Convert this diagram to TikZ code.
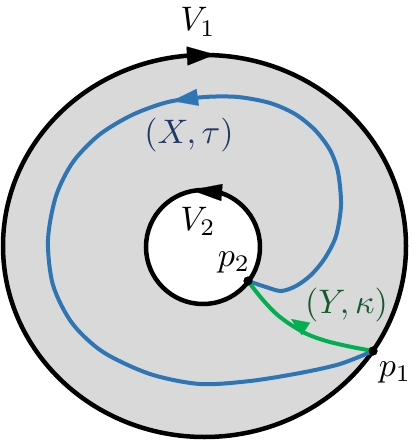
\documentclass[tikz,border=0pt]{standalone}
\usepackage{graphicx}
\usetikzlibrary{arrows.meta}
\definecolor{ringgray}{HTML}{D9D9D9}
\definecolor{pathblue}{HTML}{2E75B6}
\definecolor{pathgreen}{HTML}{00B050}
\definecolor{labelblue}{HTML}{1F3864}
\definecolor{labelgreen}{RGB}{20,90,45}
\newcommand{\bigmath}[1]{\scalebox{3.4}{$#1$}}
\tikzset{
  rim/.style={line width=4.5pt, draw=black},
  bluepath/.style={line width=4pt, draw=pathblue, line join=round, line cap=round},
  greenpath/.style={line width=4pt, draw=pathgreen, line join=round, line cap=round},
  tipmark/.style={line width=0.1pt},
  dot/.style={circle, fill=black, inner sep=0pt, minimum size=9pt},
  lab/.style={inner sep=0pt, anchor=base}
}
\begin{document}
\begin{tikzpicture}[x=1pt,y=-1pt]
\useasboundingbox (0,0) rectangle (413,441);
% rings
\filldraw[rim, fill=ringgray] (204.5,246) ellipse [x radius=201.5, y radius=191];
\filldraw[rim, fill=white] (203,247) circle [radius=57];
% points
\node[dot] (P2) at (248,281) {};
\node[dot] (P1) at (373,351) {};
% blue path (X,tau)
\draw[bluepath] plot[smooth, tension=0.5] coordinates {
  (P2.center) (266,287) (281,291) (296,286) (311,275) (325,258) (336,236)
  (341,205) (338,172) (330,150) (315,130) (295,114) (270,103) (238,97)
  (205,97) (168,102) (132,115) (99,135) (73,162) (56,196) (48,240)
  (53,285) (72,323) (103,352) (150,374) (200,384) (250,381) (300,373)
  (340,364) (P1.center)};
% green path (Y,kappa)
\draw[greenpath] plot[smooth, tension=0.6] coordinates {
  (P1.center) (347,346) (323,340) (303,332) (280,317) (263,300) (P2.center)};
\node[dot] at (P2) {};
\node[dot] at (P1) {};
% arrowheads
\coordinate (oa1) at (187,56);
\coordinate (oa2) at (215,54.5);
\draw[tipmark, -{Triangle[length=28pt,width=19pt]}] (oa1) -- (oa2);
\coordinate (ia1) at (222,192.5);
\coordinate (ia2) at (191,190);
\draw[tipmark, -{Triangle[length=31pt,width=17pt]}] (ia1) -- (ia2);
\coordinate (ba1) at (198,97.3);
\coordinate (ba2) at (172,101);
\draw[tipmark, pathblue, -{Triangle[length=26pt,width=17pt]}] (ba1) -- (ba2);
\coordinate (ga1) at (306,329);
\coordinate (ga2) at (291,319);
\draw[tipmark, pathgreen, -{Triangle[length=18pt,width=15pt]}] (ga1) -- (ga2);
% labels
\node[lab] (V1) at (198,31) {\bigmath{V_1}};
\node[lab] (V2) at (198,230) {\bigmath{V_2}};
\node[lab] (p2) at (234,266) {\bigmath{p_2}};
\node[lab] (p1) at (395,376) {\bigmath{p_1}};
\node[lab, text=labelblue] (Xt) at (189,143.5) {\bigmath{(X,\tau)}};
\node[lab, text=labelgreen] (Yk) at (346.5,313.5) {\bigmath{(Y,\kappa)}};
\end{tikzpicture}
\end{document}
